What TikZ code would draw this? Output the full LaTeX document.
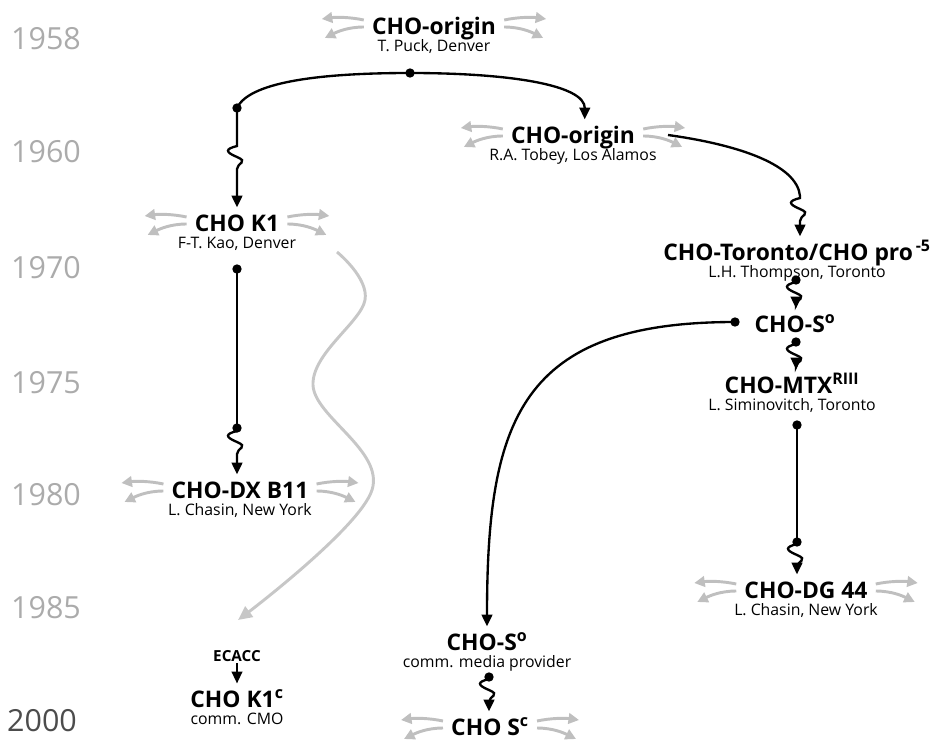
\documentclass[tikz,border=0pt]{standalone}
\usepackage{fontspec}
\setmainfont{Open Sans}
\usetikzlibrary{arrows.meta,calc,positioning}
\tikzset{
  >={Triangle[width=9pt,length=10pt]},
  ttl/.style={font=\fontsize{19.5}{22}\selectfont\bfseries, inner sep=0pt, text height=20pt, text depth=4.5pt},
  sub/.style={font=\fontsize{13.5}{15}\selectfont, inner sep=0pt},
  yr/.style={font=\fontsize{26}{28}\selectfont, text=black!33, inner sep=0pt},
  line/.style={line width=2pt},
  dot/.style={circle, fill, inner sep=0pt, minimum size=8pt},
  fan/.style={draw=black!25, line width=2.5pt, -{Triangle[width=9pt,length=9pt]}},
  drift/.style={draw=black!22, line width=2.5pt, -{Triangle[width=11pt,length=12pt]}}
}
\newcommand\spread[1]{%
  \draw[fan] ($(#1.west)+(-8,-5)$) .. controls +(-14,-3) and +(14,-2) .. ++(-42,-1);
  \draw[fan] ($(#1.west)+(-8,2)$) .. controls +(-16,0) and +(12,-6) .. ++(-39,11);
  \draw[fan] ($(#1.east)+(8,-5)$) .. controls +(14,-3) and +(-14,-2) .. ++(42,-1);
  \draw[fan] ($(#1.east)+(8,2)$) .. controls +(16,0) and +(-12,-6) .. ++(39,11);
}
\newcommand\twist[3]{%
  \draw[line, ->] (#1) -- ++(0,#3) .. controls +(-12,3) and +(-12,-5) .. ++(0,11)
    .. controls +(12,5) and +(0,-6) .. ++(0,12) -- (#2);
}
\begin{document}
\begin{tikzpicture}[x=0.3mm, y=-0.3mm]
  \useasboundingbox (0,0) rectangle (934,746);
  \foreach \yy/\t in {39/1958, 152/1960, 268/1970, 383/1975, 495/1980, 608/1985}
    \node[yr] (y_\t) at (46,\yy) {\t};
  \node[yr, text=black!70] (y_2000) at (42,721) {2000};

  \node[ttl] (o_1) at (434,25) {CHO-origin};
  \node[sub, below=0pt of o_1] (o_1s) {T. Puck, Denver};
  \node[ttl] (o_2) at (573,134) {CHO-origin};
  \node[sub, below=0pt of o_2] (o_2s) {R.A. Tobey, Los Alamos};
  \node[ttl] (k_1) at (237,222) {CHO K1};
  \node[sub, below=0pt of k_1] (k_1s) {F-T. Kao, Denver};
  \node[ttl] (x_1) at (240,489) {CHO-DX B11};
  \node[sub, below=0pt of x_1] (x_1s) {L. Chasin, New York};
  \node[ttl] (t_1) at (797,251) {CHO-Toronto/CHO pro\textsuperscript{\,-5}};
  \node[sub, below=0pt of t_1] (t_1s) {L.H. Thompson, Toronto};
  \node[ttl] (s_1) at (795,323) {CHO-S\textsuperscript{o}};
  \node[ttl] (m_1) at (792,384) {CHO-MTX\textsuperscript{RIII}};
  \node[sub, below=0pt of m_1] (m_1s) {L. Siminovitch, Toronto};
  \node[ttl] (g_1) at (806,589) {CHO-DG 44};
  \node[sub, below=0pt of g_1] (g_1s) {L. Chasin, New York};
  \node[ttl] (s_2) at (487,641) {CHO-S\textsuperscript{o}};
  \node[sub, below=0pt of s_2] (s_2s) {comm. media provider};
  \node[ttl] (s_3) at (490,726) {CHO S\textsuperscript{c}};
  \node[font=\fontsize{13}{15}\selectfont\bfseries, inner sep=1pt] (e_1) at (237,656) {ECACC};
  \node[ttl] (k_2) at (237,698) {CHO K1\textsuperscript{c}};
  \node[sub, below=0pt of k_2] (k_2s) {comm. CMO};

  \spread{o_1}
  \spread{o_2}
  \spread{k_1}
  \spread{x_1}
  \spread{g_1}
  \spread{s_3}

  \node[dot] (d_0) at (237,108) {};
  \node[dot] (d_1) at (410,73) {};
  \node[dot] (d_2) at (237,269) {};
  \node[dot] (d_3) at (237,428) {};
  \node[dot] (d_4) at (796,280) {};
  \node[dot] (d_5) at (796,342) {};
  \node[dot] (d_6) at (735,322) {};
  \node[dot] (d_7) at (797,425) {};
  \node[dot] (d_8) at (797,542) {};
  \node[dot] (d_9) at (489,677) {};
  \coordinate (c_1) at (668,135);
  \coordinate (c_2) at (800,196);

  \draw[line] (d_0.center) .. controls (250,80) and (330,73) .. (d_1.center);
  \draw[line, ->] (d_1.center) .. controls (510,73) and (585,85) .. ([xshift=10pt]o_2.north);
  \twist{d_0.center}{k_1.north -| d_0}{38}
  \draw[line] (d_2.center) -- (d_3.center);
  \twist{d_3.center}{x_1.north -| d_3}{3}
  \draw[line] (c_1) .. controls (740,145) and (797,165) .. (c_2);
  \twist{c_2}{t_1.north -| c_2}{2}
  \twist{d_4.center}{s_1.north -| d_4}{2}
  \twist{d_5.center}{m_1.north -| d_5}{2}
  \draw[line, ->] (d_6.center) .. controls (520,322) and (487,420) .. (s_2.north);
  \draw[line] (d_7.center) -- (d_8.center);
  \twist{d_8.center}{g_1.north -| d_8}{2}
  \twist{d_9.center}{s_3.north -| d_9}{2}
  \draw[line width=1.6pt, ->] (e_1.south) -- (k_2.north);

  \coordinate (w_1) at (337,252);
  \coordinate (w_2) at (365,300);
  \coordinate (w_3) at (313,385);
  \coordinate (w_4) at (372,490);
  \coordinate (w_5) at (238,620);
  \draw[drift] plot[smooth, tension=0.6] coordinates {(w_1) (w_2) (w_3) (w_4) (w_5)};
\end{tikzpicture}
\end{document}
